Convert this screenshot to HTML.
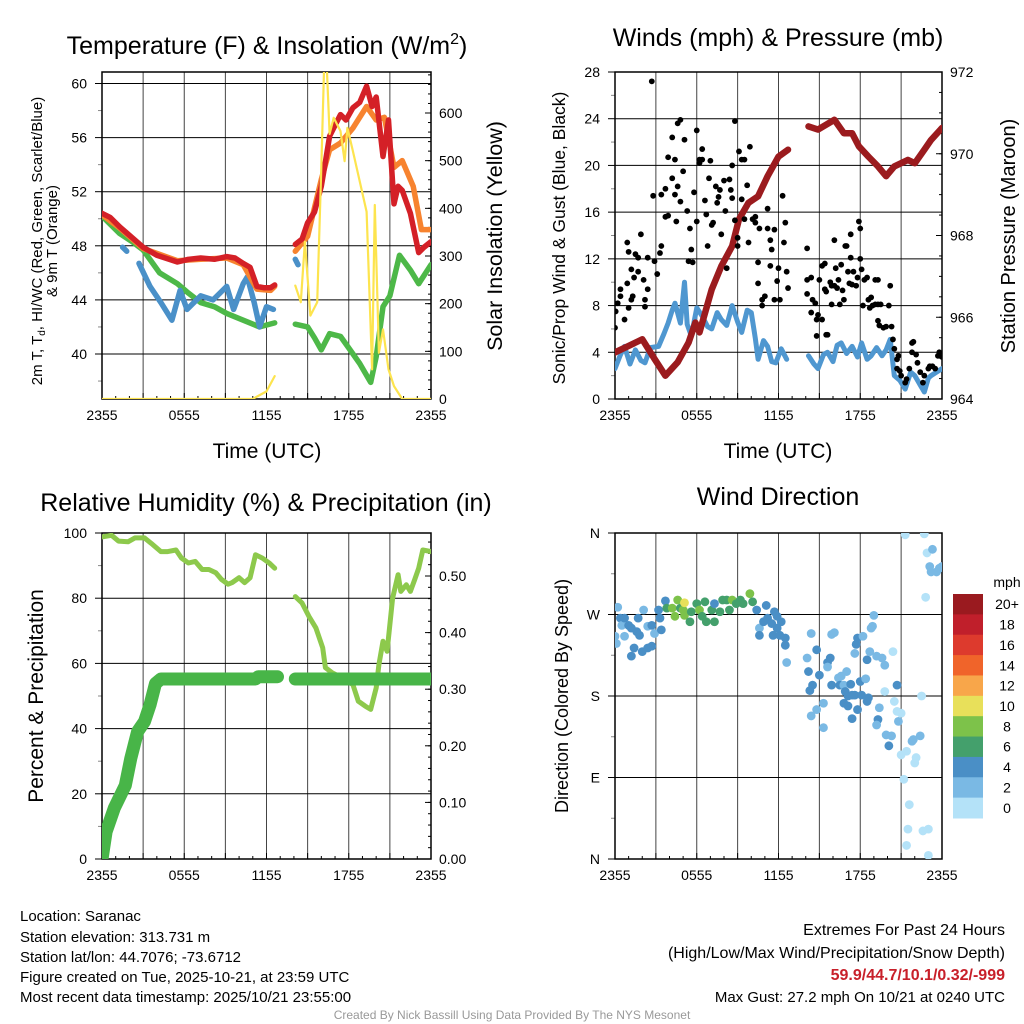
<!DOCTYPE html>
<html><head><meta charset="utf-8"><style>
html,body{margin:0;padding:0;background:#fff;}
svg{display:block;font-family:"Liberation Sans",Arial,sans-serif;}
</style></head><body>
<svg id="chart" width="1024" height="1024" viewBox="0 0 1024 1024" xmlns="http://www.w3.org/2000/svg">
<rect width="1024" height="1024" fill="#fff"/>
<g font-size="25" text-anchor="middle" fill="#000">
<text x="267" y="54">Temperature (F) &amp; Insolation (W/m<tspan font-size="16" dy="-10">2</tspan><tspan dy="10">)</tspan></text>
<text x="778" y="46">Winds (mph) &amp; Pressure (mb)</text>
<text x="266" y="511">Relative Humidity (%) &amp; Precipitation (in)</text>
<text x="778" y="505">Wind Direction</text>
</g>
<g fill="#000" text-anchor="middle">
<text x="267" y="458" font-size="21">Time (UTC)</text>
<text x="778" y="458" font-size="21">Time (UTC)</text>
<text transform="translate(42,241) rotate(-90)" font-size="15">2m T, T<tspan font-size="10" dy="3">d</tspan><tspan dy="-3">, HI/WC (Red, Green, Scarlet/Blue)</tspan></text>
<text transform="translate(57,241) rotate(-90)" font-size="15">&amp; 9m T (Orange)</text>
<text transform="translate(502,236) rotate(-90)" font-size="21.5">Solar Insolation (Yellow)</text>
<text transform="translate(565,238) rotate(-90)" font-size="17.5">Sonic/Prop Wind &amp; Gust (Blue, Black)</text>
<text transform="translate(1015,236) rotate(-90)" font-size="20">Station Pressure (Maroon)</text>
<text transform="translate(43,696) rotate(-90)" font-size="21">Percent &amp; Precipitation</text>
<text transform="translate(568,696) rotate(-90)" font-size="18">Direction (Colored By Speed)</text>
</g>
<g font-size="15" fill="#000">
<text x="20" y="921">Location: Saranac</text>
<text x="20" y="942">Station elevation: 313.731 m</text>
<text x="20" y="962">Station lat/lon: 44.7076; -73.6712</text>
<text x="20" y="982">Figure created on Tue, 2025-10-21, at 23:59 UTC</text>
<text x="20" y="1002">Most recent data timestamp: 2025/10/21 23:55:00</text>
</g>
<g font-size="16" fill="#000" text-anchor="end">
<text x="1005" y="935">Extremes For Past 24 Hours</text>
<text x="1005" y="958">(High/Low/Max Wind/Precipitation/Snow Depth)</text>
<text x="1005" y="980" font-weight="bold" fill="#c8202a">59.9/44.7/10.1/0.32/-999</text>
<text x="1005" y="1002" font-size="15">Max Gust: 27.2 mph On 10/21 at 0240 UTC</text>
</g>
<text x="512" y="1019" font-size="12" fill="#999" text-anchor="middle">Created By Nick Bassill Using Data Provided By The NYS Mesonet</text>
</svg>
<script>
// ---- Temperature panel data ----
const redT=[0,0.6,1.3,2.2,3,4,5.5,6.3,7.2,8.2,9.1,9.7,10.3,10.8,11.3,11.8,12.3,12.6,null,14.1,14.6,15,15.5,16,16.3,16.6,17,17.4,17.8,18.3,18.8,19.3,19.7,20,20.5,20.9,21.3,21.6,21.9,22.5,23.1,23.5,24];
const redV=[50.4,50.1,49.4,48.6,47.9,47.3,46.8,47.0,47.1,47.0,47.2,47.1,46.7,46.4,45.0,44.9,44.9,45.1,null,48.1,48.5,49.7,50.5,52.4,54.2,56.1,56.9,57.7,57.3,58.2,58.6,59.8,58.3,59.0,54.6,57.3,51.1,52.4,52.1,50.4,47.5,47.9,48.3];
const orangeT=[0,1.3,3,5.5,7.2,9.1,10.3,11.3,12.3,12.6,null,14.1,15,16,16.6,17.4,18.3,19.3,20,20.6,21.3,21.9,22.7,23.3,24];
const orangeV=[50.3,49.3,47.8,46.9,47.0,47.1,46.6,44.8,44.7,45.0,null,47.6,48.7,52.9,55.1,55.6,56.7,58.3,57.3,57.5,53.8,54.3,52.4,49.2,49.2];
const greenT=[0,0.6,1.3,2.2,3,4.2,5.5,6.3,7.2,8.2,9.1,10.3,11.5,12.6,null,14.1,15,15.5,16,16.6,17.4,18.1,18.8,19.6,20,20.5,21,21.7,22.5,23.1,24];
const greenV=[50.2,49.6,48.9,48.3,47.7,46.0,45.2,44.5,43.8,43.5,43.0,42.5,42.0,42.3,null,42.2,42.0,41.2,40.3,41.5,41.3,40.3,39.3,37.9,39.8,43.5,44.3,47.3,46.2,45.2,46.6];
const blueT=[1.5,1.8,null,2.7,3.5,4.3,5.1,5.7,6.2,7.2,8.1,9.1,9.6,10.3,10.6,11.1,11.5,12,12.5,null,14.1,14.3];
const blueV=[47.9,47.6,null,46.7,45.0,43.8,42.5,44.7,43.3,44.3,44.0,45.0,43.3,45.2,45.7,43.8,42.0,43.5,43.3,null,47.0,46.6];
const solarT=[0,11,11.3,12,12.6,null,14.1,14.5,14.8,15.2,15.7,16,16.2,16.4,16.6,16.9,17.4,17.7,17.9,18.3,19.3,19.7,19.9,20.2,20.5,20.9,21.3,21.9,24];
const solarV=[0,0,5,16,48,null,238,203,330,175,203,485,696,696,556,590,562,499,569,520,393,62,407,97,146,62,27,0,0];
const tempTicks=[40,44,48,52,56,60];
const solarTicks=[0,100,200,300,400,500,600];
// ---- Wind panel data ----
const windT=[0,0.4,0.7,1.1,1.5,1.9,2.2,2.6,3.2,3.6,3.9,4.2,4.4,4.8,5.1,5.3,5.6,6,6.4,6.8,7.1,7.5,7.8,8.2,8.6,9,9.3,9.7,10,10.3,10.5,10.9,11.2,11.5,11.8,12.2,12.6,null,14.2,14.6,14.9,15.3,15.6,16,16.3,16.6,17,17.4,17.8,18.1,18.5,18.8,19.2,19.6,19.9,20.2,20.5,20.9,21.3,21.7,22,22.4,22.7,23,23.2,23.6,24];
const windV=[2.6,3.8,4.5,3.0,4.2,3.3,3.1,4.4,4.5,5.6,6.5,7.6,8.2,6.5,10,6.4,5.4,7.8,7.1,6.2,6.0,7.4,6.8,6.3,8,6.6,5.7,7.6,7.4,5.2,3.4,5.0,4.5,3.2,3.1,4.3,3.4,null,3.7,3.0,2.6,3.8,4.0,3.2,4.6,4.8,3.9,4.5,3.6,4.8,3.4,3.7,4.4,3.7,4.2,5.1,2.0,1.6,0.85,2.3,2.0,1.2,0.6,1.8,2.0,2.3,2.6];
const presT=[0,1,2,2.9,3.7,4.6,5.4,5.9,6.2,7.1,7.8,8.6,9.1,9.8,10.5,11.2,12,12.7,null,14.2,14.9,16.1,16.8,17.4,17.9,18.6,19.3,19.9,20.5,21.5,22,22.7,23.2,24];
const presV=[965.14,965.3,965.46,964.98,964.57,964.9,965.38,965.87,965.63,966.68,967.25,967.74,968.4,968.8,968.96,969.45,969.93,970.1,null,970.67,970.59,970.83,970.5,970.5,970.18,969.93,969.69,969.45,969.69,969.85,969.77,970.1,970.34,970.63];
const gustT=[0,0.05,0.2,0.4,0.4,0.7,0.9,1.0,1.2,1.3,0.9,1.0,1.5,1.7,1.2,1.7,1.4,2.1,1.9,2.4,2.2,2.4,2.2,2.9,2.7,2.8,3.1,3.3,3.4,3.7,3.9,3.4,3.7,3.9,4.2,4.4,4.2,4.5,4.4,4.6,4.8,4.6,4.8,5.1,5.0,5.3,5.5,5.6,5.4,5.7,5.8,6.0,6.0,6.2,6.4,6.4,6.2,6.6,6.7,6.9,7.0,6.8,7.1,7.2,7.4,7.5,7.6,7.7,7.8,8.0,8.1,8.2,8.4,8.5,8.6,8.6,8.8,8.8,9.0,9.0,9.1,9.3,9.5,9.3,9.5,9.7,9.8,9.9,10.1,10.3,10.3,10.5,10.5,10.6,10.8,10.8,11.0,11.2,11.2,11.4,11.4,11.5,11.7,11.7,11.9,12.0,12.1,12.3,12.4,12.5,12.6,12.7,
14.1,14.1,14.4,14.1,14.5,14.7,14.4,14.8,14.9,15.2,14.8,15.5,15.6,15.0,15.2,15.4,15.4,15.5,15.8,15.9,15.9,16.1,16.2,16.1,16.3,16.4,16.5,16.6,16.7,16.8,16.9,17.0,17.1,17.2,17.3,17.4,17.5,17.3,17.7,17.8,17.9,18.0,18.0,18.1,18.2,18.3,18.5,18.6,18.7,18.8,18.9,19.1,19.3,19.1,19.3,19.4,19.3,19.5,19.7,19.9,20.1,20.2,20.3,20.4,20.5,20.7,20.8,20.7,20.9,21.0,21.3,21.4,21.6,21.8,21.9,21.8,22.1,22.2,22.4,22.6,22.7,23.0,23.1,23.3,23.5,23.7,23.8,24.0];
const gustV=[6.1,7.5,8.2,8.8,9.4,6.8,9.9,7.8,8.5,8.8,13.4,12.6,12.4,12.1,11.1,10.9,10.4,10.2,14.1,12.1,8.5,9.4,7.9,11.8,27.2,17.4,10.7,12.5,13.1,15.6,15.7,17.5,18.0,20.7,22.4,20.5,18.9,15.2,17.5,18.2,16.9,23.6,23.9,22.2,19.5,16.1,14.6,12.8,11.8,11.7,17.7,15.2,23.0,20.2,21.4,20.5,20.5,17.0,15.8,18.9,20.4,13.1,14.9,15.1,18.2,16.8,17.3,17.9,14.1,18.7,16.1,11.2,18.8,17.9,20.0,17.2,23.8,15.3,13.8,13.1,21.2,20.5,20.5,17.1,15.4,18.3,13.4,21.6,15.4,15.6,15.1,11.7,9.9,14.6,8.5,8.0,8.8,16.3,14.6,13.6,11.4,12.8,14.5,8.5,10.1,11.2,8.5,17.4,13.4,15.1,10.9,9.5,
12.9,10.2,10.4,9.0,8.5,8.2,7.4,6.8,7.2,6.8,5.4,5.5,5.5,10.2,11.4,11.6,9.4,9.2,10.0,9.7,8.1,9.7,11.2,13.6,9.5,10.2,8.1,11.5,9.3,8.5,13.1,13.1,10.9,9.9,12.1,9.8,10.9,14.1,9.7,10.4,15.2,14.6,12.0,11.1,8.0,10.2,10.4,8.5,7.8,8.7,8.0,10.2,10.2,8.1,6.7,6.3,8.1,8.1,6.1,6.2,8.0,9.7,6.2,5.1,4.3,3.4,3.7,2.6,2.4,2.0,1.4,1.7,2.6,4.8,4.9,4.0,3.8,3.1,2.3,1.4,2.0,2.6,2.8,2.8,2.6,3.7,4.0,3.6];
const windTicks=[0,4,8,12,16,20,24,28];
const presTicks=[964,966,968,970,972];
// ---- Humidity panel data ----
const rhT=[0,0.7,1.2,1.9,2.4,3.1,3.6,4.3,4.8,5.4,5.8,6.3,6.8,7.3,7.8,8.3,8.7,9.2,9.5,10,10.4,10.8,11.2,11.7,12.2,12.6,null,14.1,14.6,15.1,15.6,16.1,16.3,16.8,17.5,18.3,18.7,19.2,19.6,20,20.2,20.5,20.8,21.2,21.6,21.8,22.2,22.5,22.8,23.1,23.4,24];
const rhV=[98.8,99.3,97.5,97.3,98.5,98.5,96.8,94.3,94.3,94.8,92.3,90.8,91.3,88.8,88.8,87.8,85.8,84.3,84.8,86.3,84.8,86.3,93.3,92.3,90.8,89.2,null,80.5,78.5,74.4,70.9,64.8,58.7,57.1,55.6,53.5,48.4,46.9,45.9,52.5,59.6,66.8,63.7,80.0,87.2,82.1,84.1,82.1,85.6,89.2,94.8,94.3];
const prT=[0,0.3,0.9,1.7,2.1,2.6,3.1,3.5,3.9,4.3,11.2,11.4,12.8,null,14.1,24];
const prV=[0,0.048,0.09,0.13,0.178,0.225,0.243,0.272,0.31,0.318,0.318,0.322,0.322,null,0.318,0.318];
const rhTicks=[0,20,40,60,80,100];
const prTicks=[0,0.1,0.2,0.3,0.4,0.5];
// ---- Wind direction data ----
const dirT=[0.2,0,0.1,0.4,0.5,0.7,1.0,0.7,1.2,1.6,1.7,1.8,1.2,1.4,2.0,2.4,2.7,2.1,2.4,2.7,2.9,3.2,3.3,3.4,3.7,3.8,4.2,4.4,4.6,4.8,5.0,5.1,5.1,5.5,5.6,6.0,6.2,6.4,6.6,6.7,7.1,7.3,7.3,7.7,7.9,8.2,8.4,8.6,8.9,9.2,9.4,9.9,10.1,10.4,10.6,10.6,10.9,11.1,11.2,11.5,11.7,11.9,11.9,12.2,11.6,12.1,12.5,12.5,12.6,
14.1,14.4,14.2,14.8,15.0,14.5,14.3,14.8,14.4,15.3,15.3,15.6,15.8,15.6,15.9,15.9,16.1,16.4,16.6,16.5,16.8,17.0,16.9,17.1,17.3,17.4,17.6,16.8,17.1,17.4,17.8,17.7,17.6,17.8,18.0,18.1,18.4,18.2,18.5,18.6,18.5,18.7,18.8,18.9,19.0,19.2,19.6,19.8,19.4,19.3,19.2,19.8,19.9,20.3,20.1,20.4,20.5,20.7,20.7,20.8,21.0,21.0,21.2,21.4,21.6,21.5,21.4,21.8,21.9,22.1,22.0,22.4,22.5,22.6,23.0,23.0,21.3,22.7,22.8,22.9,23.3,23.1,23.2,23.6,23.8,24.0];
const dirV=[278,246,238,266,258,266,258,246,255,251,266,247,224,233,229,233,235,275,257,258,249,275,266,253,285,277,277,268,286,277,275,283,269,262,273,282,275,268,284,262,275,262,282,273,286,286,275,286,282,286,282,293,284,275,255,247,262,280,266,260,273,268,255,262,247,247,244,236,217,
222,249,207,231,203,192,186,165,158,172,145,217,222,212,192,248,250,200,202,192,192,207,185,180,193,181,181,172,169,155,244,237,227,165,196,181,199,246,174,178,220,229,255,257,269,224,222,214,167,154,148,185,137,136,125,229,174,192,163,152,161,115,88,119,60,33,15,130,132,112,106,136,180,31,33,4,358,359,289,338,342,323,317,317,321,323];
const dirSpd=[3,3,3,5,3,5,5,3,5,5,5,5,5,5,5,5,5,3,3,5,3,5,5,5,5,7,9,9,9,7,9,10.5,9,7,7,7,9,7,7,7,7,7,5,7,7,7,7,9,7,7,7,9,7,5,3,5,5,5,5,5,5,5,5,5,5,5,5,5,3,
3,3,5,5,5,5,5,3,3,3,3,5,5,3,5,3,3,3,3,5,3,3,5,5,5,5,5,5,5,5,5,5,3,5,5,5,3,3,5,5,5,3,3,3,3,3,3,3,3,5,3,1,3,3,5,1,1,5,1,3,1,1,1,1,1,1,1,3,3,1,1,3,1,1,1,1,1,1,1,1,3,3,3,3,3,3];
const dirTickLabels=["N","E","S","W","N"];
const dirTicks=[0,90,180,270,360];
const speedBins=["0","2","4","6","8","10","12","14","16","18","20+"];
const speedColors=["#b4e2f8","#7ab9e4","#4a8fc6","#44a06c","#7dc24a","#e8e05a","#f8a64a","#f0642a","#dd3a2d","#c01f2b","#9a1a1f"];
const timeLabels=["2355","0555","1155","1755","2355"];

const NS="http://www.w3.org/2000/svg";
const svg=document.getElementById('chart');
function el(tag,attrs,parent){const e=document.createElementNS(NS,tag);for(const k in attrs)e.setAttribute(k,attrs[k]);(parent||svg).appendChild(e);return e;}

const P1={x0:102,x1:431,y0:72,y1:399};
const P2={x0:615,x1:942,y0:72,y1:399};
const P3={x0:102,x1:431,y0:533,y1:859};
const P4={x0:615,x1:942,y0:533,y1:859};
function xT(p,t){return p.x0+t*(p.x1-p.x0)/24;}
function lin(d0,d1,r0,r1){return v=>r0+(v-d0)*(r1-r0)/(d1-d0);}
const yTemp=lin(40,60,354,83.5);
const ySol=lin(0,600,399,113);
const yWind=lin(0,28,399,72);
const yPres=lin(964,972,399,72);
const yRH=lin(0,100,859,533);
const yPr=lin(0,0.5,859,576);
const yDir=lin(0,360,859,533);

function pathD(p,ts,vs,ys){let d='',pen=false;for(let i=0;i<ts.length;i++){if(ts[i]===null||vs[i]===null){pen=false;continue;}const x=xT(p,ts[i]).toFixed(1),y=ys(vs[i]).toFixed(1);d+=(pen?'L':'M')+x+' '+y;pen=true;}return d;}

function frame(p,name){
  const g=el('g',{});
  
  
  for(let h=3;h<24;h+=3){const x=xT(p,h);const ln=el('line',{x1:x,x2:x,y1:p.y0,y2:p.y1,stroke:'#444','stroke-width':1},g);
    
    }
  for(let i=0;i<=24;i+=1){const x=xT(p,i);const len=(i%3===0)?6:3;el('line',{x1:x,x2:x,y1:p.y1,y2:p.y1-len,stroke:'#000'},g);}
  timeLabels.forEach((lab,i)=>{const t=el('text',{x:xT(p,i*6),y:p.y1+21,'font-size':14,'text-anchor':'middle'},g);t.textContent=lab;
    
    });
  return g;
}
function hgrid(g,p,ticks,ys,labels,side){ticks.forEach((v,i)=>{const y=ys(v);const ln=el('line',{x1:p.x0,x2:p.x1,y1:y,y2:y,stroke:'#000','stroke-width':1},g);
  
  
  el('line',{x1:p.x0-7,x2:p.x0,y1:y,y2:y,stroke:'#000'},g);
  if(labels){const t=el('text',{x:p.x0-15,y:y+5,'font-size':14,'text-anchor':'end'},g);t.textContent=labels[i];
    
    }});}
function minorLeft(g,p,vals,ys){vals.forEach(v=>{const y=ys(v);el('line',{x1:p.x0-4,x2:p.x0,y1:y,y2:y,stroke:'#888'},g);});}
function rtick(g,p,ticks,ys,labels,minorStep,d0,d1){ticks.forEach((v,i)=>{const y=ys(v);el('line',{x1:p.x1,x2:p.x1-6,y1:y,y2:y,stroke:'#000'},g);
  const t=el('text',{x:p.x1+8,y:y+5,'font-size':14},g);t.textContent=labels[i];
  
  });
  for(let v=d0;v<=d1+1e-9;v+=minorStep){const y=ys(v);if(y<p.y0-0.5)break;el('line',{x1:p.x1,x2:p.x1-3,y1:y,y2:y,stroke:'#000'},g);}}
function border(g,p){el('rect',{x:p.x0,y:p.y0,width:p.x1-p.x0,height:p.y1-p.y0,fill:'none',stroke:'#000','stroke-width':1.5},g);}
function line(p,ts,vs,ys,color,w,name){const e=el('path',{d:pathD(p,ts,vs,ys),fill:'none',stroke:color,'stroke-width':w,'stroke-linecap':'round','stroke-linejoin':'round'});
  
  return e;}
function clip(id,p){const c=el('clipPath',{id:id});el('rect',{x:p.x0,y:p.y0,width:p.x1-p.x0,height:p.y1-p.y0},c);}

clip('c1',P1);clip('c2',P2);clip('c3',P3);clip('c4',P4);
// Panel 1
let g1=frame(P1,'temperature');
hgrid(g1,P1,tempTicks,yTemp,tempTicks.map(String),'left');
minorLeft(g1,P1,[38,42,46,50,54,58],yTemp);
rtick(g1,P1,solarTicks,ySol,solarTicks.map(String),20,0,680);
let s1=el('g',{'clip-path':'url(#c1)'});


[[greenT,greenV,'#4db848','dewpoint-line'],[blueT,blueV,'#4a90c8','windchill-line'],[orangeT,orangeV,'#f7832f','9m-temp-line'],[redT,redV,'#d42027','2m-temp-line']].forEach(a=>{s1.appendChild(line(P1,a[0],a[1],yTemp,a[2],5.5,a[3]));});
s1.appendChild(line(P1,solarT,solarV,ySol,'#fde44e',2.2,'solar-line'));
border(g1,P1);

// Panel 2
let g2=frame(P2,'winds');
hgrid(g2,P2,windTicks,yWind,windTicks.map(String),'left');
minorLeft(g2,P2,[2,6,10,14,18,22,26],yWind);
rtick(g2,P2,presTicks,yPres,presTicks.map(String),0.5,964,972);
let s2=el('g',{'clip-path':'url(#c2)'});


s2.appendChild(line(P2,windT,windV,yWind,'#4f97d0',5,'sonic-wind-line'));
s2.appendChild(line(P2,presT,presV,yPres,'#9b1b1e',6.5,'pressure-line'));
for(let i=0;i<gustT.length;i++){const c=el('circle',{cx:xT(P2,gustT[i]),cy:yWind(gustV[i]),r:2.9,fill:'#000'},s2);
  
  }
border(g2,P2);

// Panel 3
let g3=frame(P3,'humidity');
hgrid(g3,P3,rhTicks,yRH,rhTicks.map(String),'left');
minorLeft(g3,P3,[10,30,50,70,90],yRH);
rtick(g3,P3,prTicks,yPr,prTicks.map(v=>v.toFixed(2)),0.02,0,0.57);
let s3=el('g',{'clip-path':'url(#c3)'});


s3.appendChild(line(P3,rhT,rhV,yRH,'#8dc94c',5,'humidity-line'));
s3.appendChild(line(P3,prT,prV,yPr,'#48b548',13,'precip-line'));
border(g3,P3);

// Panel 4
let g4=frame(P4,'direction');
hgrid(g4,P4,dirTicks,yDir,dirTickLabels,'left');
minorLeft(g4,P4,[45,135,225,315],yDir);
let s4=el('g',{'clip-path':'url(#c4)'});


for(let i=0;i<dirT.length;i++){const bin=Math.min(10,Math.floor(dirSpd[i]/2));const c=el('circle',{cx:xT(P4,dirT[i]),cy:yDir(dirV[i]),r:4.4,fill:speedColors[bin]},s4);
  
  }
border(g4,P4);

// Colorbar
let cb=el('g',{});


const cbTop=594,cbBot=818,cbH=(cbBot-cbTop)/speedBins.length;
const cbt=el('text',{x:1007,y:587,'font-size':14,'text-anchor':'middle'},cb);cbt.textContent='mph';


speedBins.forEach((lab,i)=>{const k=speedBins.length-1-i;const y=cbTop+i*cbH;
  const r=el('rect',{x:953,y:y,width:30,height:cbH+0.5,fill:speedColors[k]},cb);
  
  
  const t=el('text',{x:1007,y:y+cbH/2+5,'font-size':14,'text-anchor':'middle'},cb);t.textContent=speedBins[k];
  
  });
</script>
</body></html>
